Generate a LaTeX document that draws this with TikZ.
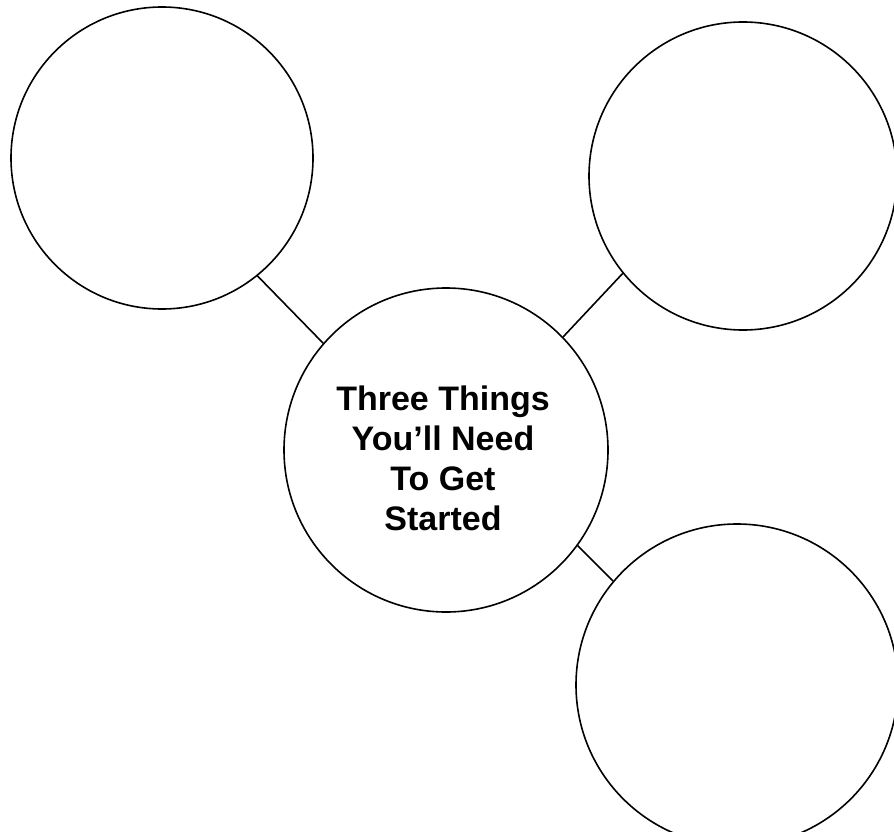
\documentclass[tikz,border=0pt]{standalone}
\usepackage{fontspec}
\setmainfont{Liberation Sans}
\begin{document}
\begin{tikzpicture}[x=1pt,y=-1pt,line width=1.6pt]
			\tikzset{bubble/.style={draw,circle,inner sep=0pt,minimum size=#1}}
			\useasboundingbox(0,0) rectangle (894,832);
			\clip(0,0) rectangle (894,832);
			\node[bubble=302](tl) at (162,158) {};
			\node[bubble=308](tr) at (743,176) {};
			\node[bubble=324](hub) at (446,450) {};
			\node[bubble=322](br) at (737,685) {};
			\node[align=center,font=\fontsize{34}{40}\selectfont\bfseries](title) at (443,458) {Three Things\\You’ll Need\\To Get\\Started};
			\draw(tl.-51)--(hub.139) (tr.-141)--(hub.44) (hub.-36)--(br.140);
		\end{tikzpicture}
\end{document}
